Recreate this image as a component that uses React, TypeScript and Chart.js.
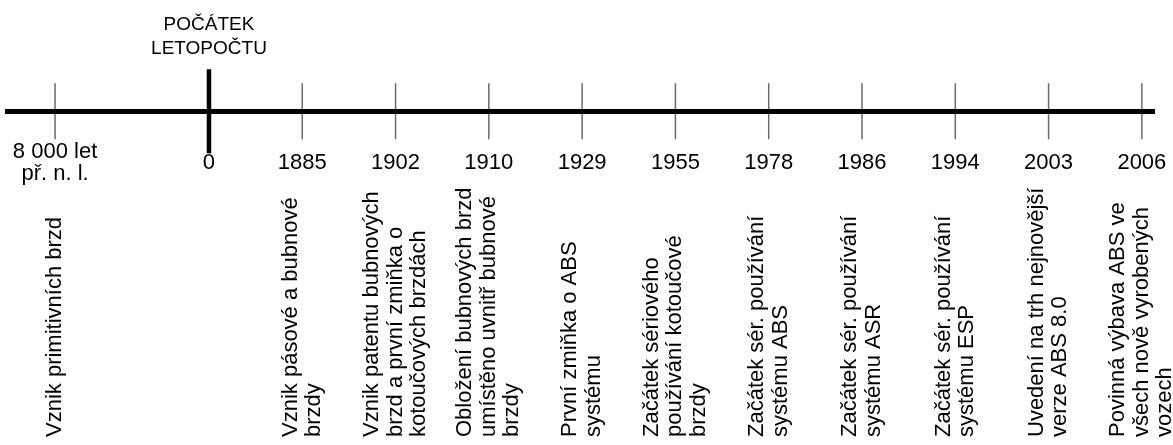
import { useEffect, useRef } from 'react';
import { Chart, registerables } from 'chart.js';

Chart.register(...registerables);

// ---- Data ----
const yearLabels: (string | string[])[] = [
  ['8 000 let', 'př. n. l.'],
  '0',
  '1885',
  '1902',
  '1910',
  '1929',
  '1955',
  '1978',
  '1986',
  '1994',
  '2003',
  '2006',
];

// ordinal step of each event on the (non-proportional) timeline
const timelineSteps: number[] = [-1.65, 0, 1, 2, 3, 4, 5, 6, 7, 8, 9, 10];

const descriptions: string[][] = [
  ['Vznik primitivních brzd'],
  [],
  ['Vznik pásové a bubnové', 'brzdy'],
  ['Vznik patentu bubnových', 'brzd a první zmiňka o', 'kotoučových brzdách'],
  ['Obložení bubnových brzd', 'umístěno uvnitř bubnové', 'brzdy'],
  ['První zmiňka o ABS', 'systému'],
  ['Začátek sériového', 'používání kotoučové', 'brzdy'],
  ['Začátek sér. používání', 'systému ABS'],
  ['Začátek sér. používání', 'systému ASR'],
  ['Začátek sér. používání', 'systému ESP'],
  ['Uvedení na trh nejnovější', 'verze ABS 8.0'],
  ['Povinná výbava ABS ve', 'všech nově vyrobených', 'vozech'],
];

const epochYear = '0';
const epochLabel: string[] = ['POČÁTEK', 'LETOPOČTU'];

const FONT = "'Liberation Sans', Arial, sans-serif";

const epochIndex = yearLabels.indexOf(epochYear);

const textPlugin = {
  id: 'timelineText',
  afterDatasetsDraw(chart: any) {
    const { ctx, scales } = chart;
    const xs = scales.x;
    ctx.save();
    ctx.fillStyle = '#000';

    // epoch caption above the zero mark
    const ex = xs.getPixelForValue(timelineSteps[epochIndex]);
    ctx.font = `19px ${FONT}`;
    ctx.textAlign = 'center';
    ctx.textBaseline = 'alphabetic';
    epochLabel.forEach((line, i) => ctx.fillText(line, ex, 30 + i * 24));

    // rotated event descriptions
    ctx.font = `22px ${FONT}`;
    ctx.textAlign = 'left';
    ctx.textBaseline = 'middle';
    descriptions.forEach((lines, i) => {
      if (!lines.length) return;
      const px = xs.getPixelForValue(timelineSteps[i]);
      ctx.save();
      ctx.translate(px, 437);
      ctx.rotate(-Math.PI / 2);
      lines.forEach((line, j) =>
        ctx.fillText(line, 0, (j - (lines.length - 1) / 2) * 23.5)
      );
      ctx.restore();
    });
    ctx.restore();
  },
};

export default function App() {
  const ref = useRef<HTMLCanvasElement>(null);

  useEffect(() => {
    const chart = new Chart(ref.current as HTMLCanvasElement, {
      type: 'scatter',
      data: {
        datasets: [
          {
            data: timelineSteps
              .filter((_, i) => i !== epochIndex)
              .map((v) => ({ x: v, y: 0 })),
            pointStyle: 'line',
            pointRotation: 90,
            pointRadius: 28,
            pointHoverRadius: 28,
            pointBorderWidth: 1.5,
            pointBorderColor: '#6a6a6a',
            pointBackgroundColor: '#6a6a6a',
          } as any,
          {
            data: [{ x: timelineSteps[epochIndex], y: 0 }],
            pointStyle: 'line',
            pointRotation: 90,
            pointRadius: 42,
            pointHoverRadius: 42,
            pointBorderWidth: 4.5,
            pointBorderColor: '#000',
            pointBackgroundColor: '#000',
          } as any,
        ],
      },
      options: {
        responsive: false,
        animation: false,
        events: [],
        layout: {
          autoPadding: false,
          padding: { left: 7, right: 19, top: 0, bottom: 0 },
        } as any,
        plugins: {
          legend: { display: false },
          tooltip: { enabled: false },
        },
        scales: {
          x: {
            type: 'linear',
            min: -2.165,
            max: 10.13,
            position: { y: 0 } as any,
            grid: { display: false, drawTicks: false },
            border: { display: true, color: '#000', width: 5, z: 1 } as any,
            afterBuildTicks: (s: any) => {
              s.ticks = timelineSteps.map((v) => ({ value: v }));
            },
            afterFit: (s: any) => {
              s.paddingLeft = 0;
              s.paddingRight = 0;
            },
            ticks: {
              autoSkip: false,
              maxRotation: 0,
              minRotation: 0,
              padding: 41,
              crossAlign: 'center',
              color: '#000',
              font: { family: FONT, size: 22, lineHeight: 1 },
              callback: (_v: any, i: number) => yearLabels[i] as any,
            },
          },
          y: {
            type: 'linear',
            min: -6,
            max: 2,
            display: false,
          },
        },
      },
      plugins: [textPlugin],
    });
    return () => chart.destroy();
  }, []);

  return (
    <div
      style={{
        position: 'absolute',
        left: 0,
        top: 0,
        width: 1173,
        height: 445,
        background: '#fff',
      }}
    >
      <canvas ref={ref} width={1173} height={445} />
    </div>
  );
}
